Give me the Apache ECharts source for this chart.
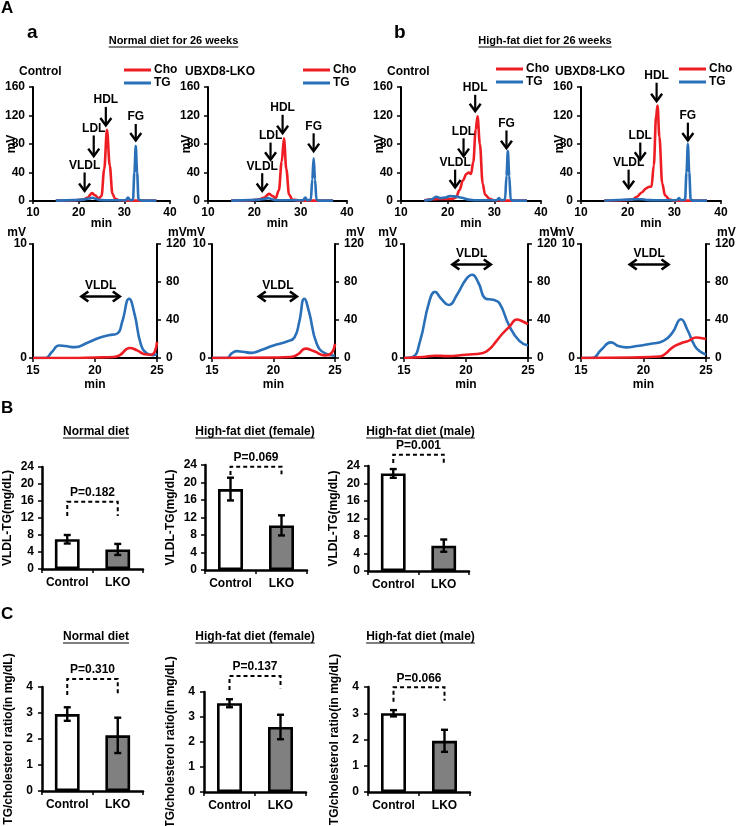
<!DOCTYPE html>
<html><head><meta charset="utf-8">
<script src="https://cdn.jsdelivr.net/npm/echarts@6/dist/echarts.min.js"></script>
<style>html,body{margin:0;padding:0;background:#fff}#c{width:736px;height:826px}</style>
</head><body><div id="c"></div>
<script>
// ================= DATA =================
// Top chromatograms: [min, mV]
const ndCtrlCho = [[15,0.5],[19,0.8],[21,2],[22,5],[22.9,11],[23.6,8],[24.4,3.5],[25,7],[25.6,45],[26.2,100],[26.8,50],[27.4,10],[28,3],[29,1],[31,0.5],[37,0.5]];
const ndCtrlTG  = [[15,0.5],[19,1.2],[21,2],[22.3,3.5],[23,4.5],[23.8,3],[24.6,1.5],[26,1],[30.3,1],[30.8,5],[31.3,1],[31.9,2],[32.2,40],[32.5,77],[32.8,40],[33.1,2],[34,0.5],[37,0.5]];
const ndLkoCho  = [[15,0.5],[19,0.8],[21,2],[22,4.5],[23.2,10],[23.9,7],[24.6,4],[25.3,15],[25.9,55],[26.4,88],[26.9,45],[27.5,9],[28.2,2],[30,0.5],[37,0.5]];
const ndLkoTG   = [[15,0.5],[19,1.2],[21,2],[22.3,3],[23,4],[23.8,2.5],[24.6,1.2],[26,1],[30.5,1],[31,5],[31.4,1],[32.2,2],[32.5,30],[32.8,60],[33.1,30],[33.4,2],[34,0.5],[37,0.5]];
const hfCtrlCho = [[15,1],[17,2.5],[19,3],[21,3],[21.8,5],[22.5,15],[23.3,29],[24,38],[24.5,40],[25,38],[25.5,55],[26,100],[26.4,119],[26.9,80],[27.5,25],[28,9],[29,3],[30,1],[32,0.5],[37,0.5]];
const hfCtrlTG  = [[15,0.5],[16.5,2],[17.5,6],[18.5,4],[19.5,5],[20.5,7],[21.5,6.5],[23,4.5],[24.5,2],[26,1],[30.5,1],[31,4],[31.4,1],[32.3,2],[32.6,35],[32.9,70],[33.2,35],[33.5,2],[34,0.5],[37,0.5]];
const hfLkoCho  = [[15,0.5],[19,1],[21,2],[22,6],[23,12],[24,18],[24.6,20],[25.1,20],[25.6,50],[26.1,120],[26.4,134],[26.8,90],[27.4,25],[28,8],[29,2],[30,0.5],[37,0.5]];
const hfLkoTG   = [[15,0.5],[18,1.5],[20,2],[22,2.5],[23,2.5],[24,1.5],[26,1],[30.5,1],[31,4],[31.4,1],[32.3,2],[32.6,40],[32.9,80],[33.2,40],[33.5,2],[34,0.5],[37,0.5]];

// Peak arrows on top chromatograms: [min, mV arrow top, mV arrow tip]
const peakLabels = ['HDL','LDL','VLDL','FG'];
const ndCtrlArrows = [[25.95,132,106],[23.3,92,63],[21.3,40,14],[32.5,108,85]];
const ndLkoArrows  = [[26.1,121,95],[23.5,82,58],[21.7,39,14],[32.8,95,70]];
const hfCtrlArrows = [[25.9,149,126],[23.4,88,63],[21.6,44,19],[32.6,99,74]];
const hfLkoArrows  = [[26.2,166,140],[22.7,82,58],[20.2,44,18],[32.9,110,85]];

// VLDL zoom chromatograms: TG on left axis (0-10 mV), Cho on right axis (0-120 mV)
const zNdCtrlTG  = [[15,0],[16,0],[16.5,0.5],[17.1,1.1],[17.6,1.05],[18.4,0.95],[19.3,1.3],[20.3,1.75],[21.1,2.0],[21.8,2.15],[22.2,3.2],[22.75,5.2],[23.2,3.8],[23.7,1.2],[24.2,0.4],[24.7,0.25],[25,0.35]];
const zNdCtrlCho = [[15,0],[18,0],[20,0.5],[21.5,1],[22,3],[22.8,10.5],[23.4,8],[24,4],[24.5,3.5],[24.8,6],[25,17]];
const zNdLkoTG   = [[15,0],[16.2,0],[16.6,0.4],[17,0.6],[17.5,0.55],[18.2,0.45],[19,0.7],[20,1.1],[21.1,1.45],[21.7,1.8],[22.1,3.2],[22.5,5.2],[22.9,4],[23.5,1.3],[24.2,0.4],[25,0.2]];
const zNdLkoCho  = [[15,0],[20,0.5],[21.4,1],[22,4],[22.6,9.9],[23.3,7],[24.2,2.8],[24.7,5],[25,15]];
const zHfCtrlTG  = [[15,0],[15.7,0.1],[16.3,1.5],[17,4.8],[17.5,5.8],[18,5.2],[18.6,4.65],[19.3,5.6],[20,6.9],[20.5,7.3],[21,6.6],[21.6,5.2],[22.2,5.1],[22.7,4.8],[23.5,2.8],[24.3,1.5],[25,1.1]];
const zHfCtrlCho = [[15,0],[16.5,1],[17.5,2.4],[18.5,2],[20,3.5],[21.3,5],[21.9,9.4],[22.4,17],[22.9,25],[23.5,33],[24.1,40.5],[24.5,39],[25,35.6]];
const zHfLkoTG   = [[15,0],[15.9,0],[16.6,0.7],[17.4,1.37],[18,1.05],[18.6,0.93],[19.5,1.05],[20.5,1.22],[21.6,1.5],[22.3,2.2],[23,3.4],[23.5,2.5],[24.1,1.07],[24.5,0.6],[25,0.3]];
const zHfLkoCho  = [[15,0],[19,0.5],[21.3,1.5],[21.8,5],[22.3,11],[23,15.5],[23.6,18],[24.2,21.6],[24.6,21],[25,20]];
// VLDL range arrows: [from min, to min, mV on left axis]
const vldlRanges = [[18.9,22.0,5.4],[18.8,21.9,5.4],[18.9,22.0,8.2],[18.9,22.0,8.2]];

// Bar charts
const groups = ['Control','LKO'];
const panelTitles = ['Normal diet','High-fat diet (female)','High-fat diet (male)'];
const vldlTgMean = [[7.0,4.6],[18.5,10.2],[22.3,5.8]];
const vldlTgErr  = [[1.0,1.3],[2.6,2.3],[1.0,1.4]];
const vldlPLabels = ['P=0.182','P=0.069','P=0.001'];
const vldlBracket = [[15.8,12.5,12.5],[23.6,21.7,21.9],[26.6,24.7,24.7]]; // top, left end, right end
const ratioMean = [[2.96,2.14],[3.55,2.6],[3.0,1.95]];
const ratioErr  = [[0.26,0.68],[0.16,0.49],[0.12,0.42]];
const ratioPLabels = ['P=0.310','P=0.137','P=0.066'];
const ratioBracket = [[4.31,3.69,3.73],[4.64,4.08,4.15],[3.99,3.44,3.48]];

// ================= CHART =================
const FONT = '"Liberation Sans", Arial, Helvetica, sans-serif';
const RED = '#ee1d23', BLUE = '#2a70b8', GRAY = '#808080';
const lbl = {color:'#000', fontWeight:'bold', fontSize:12, fontFamily:FONT};

const topRects = [[33,170],[208,347],[401,541],[581,721]];
const lowRects = [[33,157],[212,335],[404,528],[581,706]];
const bRects = [[42,143,467,569],[205,307,465,570],[368,469,466,571]];
const cRects = [[42,143,687,791],[204,306,692,792],[368,470,687,792]];

const grids = [], xAxes = [], yAxes = [], series = [];
function vAxis(o){
  return Object.assign({type:'value', splitLine:{show:false}, nameMoveOverlap:false,
    axisLine:{show:true, onZero:false, lineStyle:{color:'#000', width:2}},
    axisTick:{show:true, length:4, lineStyle:{color:'#000', width:1.5}},
    axisLabel:Object.assign({margin:7}, lbl),
    nameTextStyle:Object.assign({}, lbl)}, o);
}
// top grids
topRects.forEach((r,i)=>{
  grids.push({left:r[0], width:r[1]-r[0], top:87, height:114});
  xAxes.push(vAxis({gridIndex:i, min:10, max:40, interval:10, name:'min', nameLocation:'middle', nameGap:17, axisTick:{show:true,length:3,lineStyle:{color:'#000',width:1.5}}, axisLabel:Object.assign({margin:6}, lbl)}));
  yAxes.push(vAxis({gridIndex:i, min:0, max:160, interval:40, name:'mV', nameLocation:'middle', nameGap:15, nameRotate:90, axisLabel:Object.assign({margin:8}, lbl)}));
});
// low grids
lowRects.forEach((r,i)=>{
  grids.push({left:r[0], width:r[1]-r[0], top:244, height:114});
  xAxes.push(vAxis({gridIndex:4+i, min:15, max:25, interval:5, name:'min', nameLocation:'middle', nameGap:21, axisLabel:Object.assign({margin:7}, lbl)}));
});
lowRects.forEach((r,i)=>{
  yAxes.push(vAxis({gridIndex:4+i, min:0, max:10, interval:10, axisLabel:Object.assign({margin:6}, lbl)}));
});
lowRects.forEach((r,i)=>{
  yAxes.push(vAxis({gridIndex:4+i, position:'right', min:0, max:120, interval:40, axisLabel:Object.assign({margin:9}, lbl)}));
});
// bar grids
function catAxis(g){
  return {type:'category', gridIndex:g, data:groups,
    axisLine:{show:true, lineStyle:{color:'#000', width:2.5}},
    axisTick:{show:true, length:4, interval:0, lineStyle:{color:'#000', width:1.5}},
    axisLabel:Object.assign({margin:8, interval:0, hideOverlap:false}, lbl)};
}
bRects.forEach((r,i)=>{
  grids.push({left:r[0], width:r[1]-r[0], top:r[2], height:r[3]-r[2]});
  xAxes.push(catAxis(8+i));
  yAxes.push(vAxis({gridIndex:8+i, min:0, max:24, interval:4, name:'VLDL-TG(mg/dL)', nameLocation:'middle', nameGap:28, nameRotate:90,
    axisLine:{show:true,onZero:false,lineStyle:{color:'#000',width:2.5}}, axisLabel:Object.assign({margin:8}, lbl)}));
});
cRects.forEach((r,i)=>{
  grids.push({left:r[0], width:r[1]-r[0], top:r[2], height:r[3]-r[2]});
  xAxes.push(catAxis(11+i));
  yAxes.push(vAxis({gridIndex:11+i, min:0, max:4, interval:1, name:'TG/cholesterol ratio(in mg/dL)', nameLocation:'middle', nameGap:27, nameRotate:90,
    axisLine:{show:true,onZero:false,lineStyle:{color:'#000',width:2.5}}, axisLabel:Object.assign({margin:9}, lbl)}));
});
grids.forEach(g=>{ g.containLabel=false; g.outerBoundsMode='none'; });

function lineS(name, color, data, xi, yi, monotone){
  const s = {type:'line', name, data, xAxisIndex:xi, yAxisIndex:yi, showSymbol:false, symbol:'none', smooth:monotone?0.35:0.5,
    lineStyle:{color, width:2.6}, itemStyle:{color}, silent:true};
  if (monotone) s.smoothMonotone = 'x';
  return s;
}
const blk = '#000';
function arrowS(arr, xi, yi){
  return {type:'custom', xAxisIndex:xi, yAxisIndex:yi, data:arr, encode:{x:0, y:[1,2]}, silent:true, clip:false, z:5,
    renderItem:(params, api)=>{
      const x = api.value(0);
      const a = api.coord([x, api.value(1)]), b = api.coord([x, api.value(2)]);
      return {type:'group', children:[
        {type:'line', shape:{x1:a[0],y1:a[1],x2:b[0],y2:b[1]-1}, style:{stroke:blk, lineWidth:2.2}},
        {type:'polyline', shape:{points:[[b[0]-5.5,b[1]-7.5],[b[0],b[1]],[b[0]+5.5,b[1]-7.5]]}, style:{stroke:blk, lineWidth:2.4, fill:null}},
        {type:'text', style:{text:peakLabels[params.dataIndex], x:a[0], y:a[1]-1, align:'center', verticalAlign:'bottom', font:'bold 12px '+FONT, fill:blk}}
      ]};
    }};
}
function rangeS(rng, xi, yi){
  return {type:'custom', xAxisIndex:xi, yAxisIndex:yi, data:[rng], encode:{x:[0,1], y:2}, silent:true, clip:false, z:5,
    renderItem:(params, api)=>{
      const a = api.coord([api.value(0), api.value(2)]), b = api.coord([api.value(1), api.value(2)]);
      const y = a[1], h=5, w=7;
      return {type:'group', children:[
        {type:'line', shape:{x1:a[0]+1,y1:y,x2:b[0]-1,y2:y}, style:{stroke:blk, lineWidth:2.4}},
        {type:'polyline', shape:{points:[[a[0]+w,y-h],[a[0],y],[a[0]+w,y+h]]}, style:{stroke:blk, lineWidth:2.6, fill:null}},
        {type:'polyline', shape:{points:[[b[0]-w,y-h],[b[0],y],[b[0]-w,y+h]]}, style:{stroke:blk, lineWidth:2.6, fill:null}},
        {type:'text', style:{text:'VLDL', x:(a[0]+b[0])/2, y:y-5, align:'center', verticalAlign:'bottom', font:'bold 12px '+FONT, fill:blk}}
      ]};
    }};
}
const tops = [[ndCtrlCho,ndCtrlTG,ndCtrlArrows],[ndLkoCho,ndLkoTG,ndLkoArrows],[hfCtrlCho,hfCtrlTG,hfCtrlArrows],[hfLkoCho,hfLkoTG,hfLkoArrows]];
tops.forEach((t,i)=>{
  series.push(lineS('Cho', RED, t[0], i, i, true));
  series.push(lineS('TG', BLUE, t[1], i, i, true));
  series.push(arrowS(t[2], i, i));
});
const lows = [[zNdCtrlTG,zNdCtrlCho],[zNdLkoTG,zNdLkoCho],[zHfCtrlTG,zHfCtrlCho],[zHfLkoTG,zHfLkoCho]];
lows.forEach((t,i)=>{
  series.push(lineS('TG', BLUE, t[0], 4+i, 4+i, false));
  series.push(lineS('Cho', RED, t[1], 4+i, 8+i, false));
  series.push(rangeS(vldlRanges[i], 4+i, 4+i));
});
function barSet(means, errs, pl, br, xi, yi){
  series.push({type:'bar', xAxisIndex:xi, yAxisIndex:yi, barWidth:'49%', silent:true,
    itemStyle:{borderColor:'#000', borderWidth:2.6},
    data: means.map((v,j)=>({value:v, itemStyle:{color: j ? GRAY : '#fff', borderColor:'#000', borderWidth:2.6}}))});
  series.push({type:'custom', xAxisIndex:xi, yAxisIndex:yi, silent:true, clip:false, z:10,
    data: means.map((m,j)=>[j, m-errs[j], m+errs[j]]), encode:{x:0, y:[1,2]},
    renderItem:(params, api)=>{
      const lo = api.coord([api.value(0), api.value(1)]), hi = api.coord([api.value(0), api.value(2)]);
      const w = 3.5;
      return {type:'group', children:[
        {type:'line', shape:{x1:lo[0],y1:lo[1],x2:hi[0],y2:hi[1]}, style:{stroke:'#000', lineWidth:2.4}},
        {type:'line', shape:{x1:lo[0]-w,y1:lo[1],x2:lo[0]+w,y2:lo[1]}, style:{stroke:'#000', lineWidth:2.4}},
        {type:'line', shape:{x1:hi[0]-w,y1:hi[1],x2:hi[0]+w,y2:hi[1]}, style:{stroke:'#000', lineWidth:2.4}}
      ]};
    }});
  series.push({type:'custom', xAxisIndex:xi, yAxisIndex:yi, silent:true, clip:false, z:10,
    data:[[0, 1, br[0], br[1], br[2]]], encode:{x:[0,1], y:[2,3,4]},
    renderItem:(params, api)=>{
      const tl = api.coord([0, api.value(2)]), tr = api.coord([1, api.value(2)]);
      const bl = api.coord([0, api.value(3)]), bb = api.coord([1, api.value(4)]);
      const ds = {stroke:'#000', lineWidth:2, lineDash:[4,3], fill:null};
      return {type:'group', children:[
        {type:'polyline', shape:{points:[[bl[0],bl[1]],[tl[0],tl[1]],[tr[0],tr[1]],[bb[0],bb[1]]]}, style:ds},
        {type:'text', style:{text:pl, x:(tl[0]+tr[0])/2, y:tl[1]-3, align:'center', verticalAlign:'bottom', font:'bold 12px '+FONT, fill:'#000'}}
      ]};
    }});
}
for (let i=0;i<3;i++){
  barSet(vldlTgMean[i], vldlTgErr[i], vldlPLabels[i], vldlBracket[i], 8+i, 12+i);
  barSet(ratioMean[i], ratioErr[i], ratioPLabels[i], ratioBracket[i], 11+i, 15+i);
}

// legends
const legendPos = [[124,64],[303,64],[496,63],[679,63]];
const legends = legendPos.map(p=>({left:p[0], top:p[1], orient:'vertical', itemGap:1, itemWidth:27, itemHeight:3, icon:'rect',
  data:['Cho','TG'], selectedMode:false, padding:0, textStyle:Object.assign({padding:[0,0,0,-2]}, lbl)}));

// texts
const ctx = document.createElement('canvas').getContext('2d');
function tw(t, f){ ctx.font = f; return ctx.measureText(t).width; }
const graphic = [];
function txt(t, x, y, size, align, underline){
  const f = 'bold '+size+'px '+FONT;
  graphic.push({type:'text', silent:true, style:{text:t, x, y, font:f, fill:'#000', align:align||'left', verticalAlign:'middle'}});
  if (underline){
    const w = tw(t, f);
    const x0 = align==='center' ? x-w/2 : x;
    graphic.push({type:'line', silent:true, shape:{x1:x0, y1:y+6, x2:x0+w, y2:y+6}, style:{stroke:'#000', lineWidth:1}});
  }
}
txt('A', 1, 8, 17);
txt('a', 27, 33, 19);
txt('b', 394, 33, 19);
txt('Normal diet for 26 weeks', 173.5, 41, 11, 'center', true);
txt('High-fat diet for 26 weeks', 545, 41, 11, 'center', true);
txt('Control', 19, 72, 12);
txt('UBXD8-LKO', 185, 72, 12);
txt('Control', 387, 72, 12);
txt('UBXD8-LKO', 555, 72, 12);
txt('B', 1, 408, 17);
txt('C', 1, 614, 17);
const subX = [96, 255, 420.5];
panelTitles.forEach((t,i)=>{ txt(t, subX[i], 432, 12, 'center', true); txt(t, subX[i], 637, 12, 'center', true); });
// "mV" unit labels above the VLDL-range axes
lowRects.forEach(r=>{ txt('mV', r[0]-7, 233, 12, 'right'); txt('mV', r[1]+11, 233, 12, 'left'); });

const chart = echarts.init(document.getElementById('c'), null, {renderer:'canvas'});
chart.setOption({animation:false, backgroundColor:'#fff', grid:grids, xAxis:xAxes, yAxis:yAxes, series, legend:legends, graphic, tooltip:{show:false}});
</script></body></html>
